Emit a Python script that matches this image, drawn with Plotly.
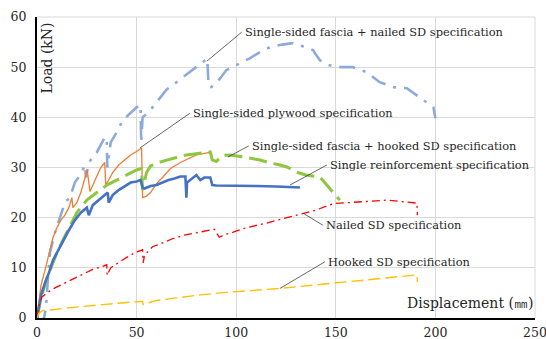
import plotly.graph_objects as go

# Load–displacement curves (displacement in mm, load in kN)
fascia_nailed_x = [0, 2, 3.5, 4.5, 5.5, 6.5, 9, 11.5, 14, 16.5, 19, 22.5, 24, 24.6, 26, 30, 34, 35, 35.3, 37,
                   40, 43, 47, 50, 52, 52.3, 53, 56, 60, 65, 70, 75, 80, 85.5, 86, 87, 89, 92, 95, 100, 107,
                   112, 117, 123, 128.5, 133, 138.6, 140, 142, 146, 150, 158.6, 165.6, 172, 179, 185.7, 192, 199, 200]
fascia_nailed_y = [0, -0.5, 0, 2, 8, 13, 17, 20, 23, 24, 27, 29, 30.5, 28, 31, 33, 36, 36, 30, 35,
                   37, 39.4, 41, 42, 42.5, 35, 40, 41, 43, 45.5, 47, 48.5, 50, 51.7, 47.4, 45.9, 46.5, 47.8, 49.4, 50.4, 51.8,
                   53, 54, 54.5, 54.8, 54.2, 53.4, 52.5, 51.4, 50.5, 50, 50, 49, 47, 46, 45.8, 44, 42, 39.8]

plywood_x = [0, 1, 2, 4, 6, 8, 10, 12, 14, 16, 17.5, 18, 20, 22, 24.5, 25.2, 26.6, 28, 30, 32, 34, 34.5, 36,
             38, 41, 44, 47, 50, 52, 52.5, 53, 55, 57, 60, 63, 67, 72, 76, 80, 84, 87]
plywood_y = [0, 4, 6.5, 9.5, 13, 16, 18, 19.5, 20.5, 22, 24, 22, 23, 25, 28.5, 29.5, 25.2, 26.5, 28.5, 30, 31, 26.5, 27.5,
             29, 30.5, 31.5, 32.5, 33.2, 33.8, 33.9, 24, 24.3, 25, 26.8, 28, 29.8, 31, 31.8, 32.5, 32.8, 33]

fascia_hooked_x = [0, 2, 5, 8, 10, 13, 16, 20, 25, 30, 35, 40, 45, 50, 52.5, 53, 53.3, 55, 57, 61, 65, 70, 75, 80,
                   85, 87, 88, 90, 93, 97, 102, 107, 112, 117, 121, 125.5, 130, 135, 140, 142, 144, 145.5, 148, 150.5, 152]
fascia_hooked_y = [0, 4, 8, 11, 13, 15.5, 18, 21, 23.5, 25, 26.5, 27.5, 28.5, 29.5, 29.8, 25.5, 26, 29, 30.3, 31, 31.5, 32, 32.5, 32.8,
                   33.1, 33.1, 31.5, 31.2, 32.4, 32.5, 32.2, 31.9, 31.5, 30.9, 30.6, 30.1, 29.1, 28.5, 28.3, 28.1, 27.2, 26.5, 25.3, 24.2, 23.5]

single_x = [0, 1, 2, 4, 6, 8, 10, 13, 16, 19, 22, 25, 26, 28, 31, 34, 35.5, 36, 38, 41, 44, 47, 50, 52, 53, 54, 57,
            60, 63, 66, 69, 72, 74.5, 75, 75.3, 77, 80, 82, 84, 87, 88, 90, 100, 110, 120, 130, 132]
single_y = [0, 2.5, 4.5, 7, 9, 11.5, 13, 15.5, 17.5, 19.5, 21, 22, 20.5, 22.5, 23.5, 24.5, 25, 23, 24.5, 25.5, 26.3, 27, 27.2, 27.5, 26, 25.8, 26.3,
            26.5, 27, 27.5, 27.8, 28.2, 28.2, 24, 27, 27.5, 28.5, 27.5, 28, 28, 26.5, 26.4, 26.4, 26.3, 26.2, 26.1, 26]

nailed_x = [0, 1, 2.5, 5, 9, 14, 19, 24, 28, 32.5, 34.5, 35, 35.2, 37, 42.7, 49, 53, 53.3, 54, 58, 62, 68, 74, 80,
            85, 89, 91.5, 94, 98.5, 105, 115, 125, 133.6, 140, 148.7, 160, 168, 175.6, 185.7, 190.7, 191]
nailed_y = [0, 2.5, 4.2, 5, 6, 7, 8, 9, 9.7, 10.2, 10.6, 10.6, 8.5, 10, 11.5, 13, 13.6, 11, 12.5, 14.2, 14.8, 15.8, 16.5, 17,
            17.5, 17.7, 16.1, 16.6, 17.1, 18, 18.9, 20, 20.9, 21.5, 22.8, 23.1, 23.3, 23.5, 23.1, 22.9, 20.5]

hooked_x = [0, 1, 3, 6.5, 15, 25, 35, 45, 52, 53, 53.3, 60, 70, 81.8, 95, 110, 122, 135, 150, 157, 170, 180, 190.7, 191]
hooked_y = [0, 1, 1.5, 1.6, 2, 2.4, 2.8, 3.1, 3.3, 3.3, 2.7, 3.5, 4, 4.6, 5.1, 5.5, 5.9, 6.4, 7, 7.2, 7.8, 8.2, 8.6, 7.2]

# Callout labels: text, point on the curve, and where the label text starts
label_texts = ["Single-sided fascia + nailed SD specification",
               "Single-sided plywood specification",
               "Single-sided fascia + hooked SD specification",
               "Single reinforcement specification",
               "Nailed SD specification",
               "Hooked SD specification"]
label_point_x = [85.3, 51.7, 95.9, 127.0, 133.5, 122.0]
label_point_y = [51.2, 33.9, 32.1, 26.5, 20.9, 5.9]
label_text_x = [103.4, 77.3, 106.9, 146.1, 144.1, 145.1]
label_text_y = [57.0, 40.8, 34.3, 30.5, 18.5, 11.2]

x_ticks = [0, 50, 100, 150, 200, 250]
y_ticks = [0, 10, 20, 30, 40, 50, 60]

serif = "DejaVu Serif"
text_color = "#262626"
grid_color = "#D9D9D9"

fig = go.Figure()

series = [
    (fascia_nailed_x, fascia_nailed_y, "#8EA9DB", 2.6, "16px,8px,3px,8px"),
    (plywood_x, plywood_y, "#ED7D31", 1.3, "solid"),
    (fascia_hooked_x, fascia_hooked_y, "#8DC63F", 3.0, "18px,7px"),
    (single_x, single_y, "#4472C4", 2.6, "solid"),
    (nailed_x, nailed_y, "#FF0000", 1.3, "8px,4px,2px,4px"),
    (hooked_x, hooked_y, "#FFC000", 1.4, "12px,5px"),
]
for xs, ys, color, width, dash in series:
    fig.add_trace(go.Scatter(x=xs, y=ys, mode="lines",
                             line=dict(color=color, width=width, dash=dash),
                             showlegend=False, hoverinfo="skip"))

# Light frame on the top and right edges of the plotting area
fig.add_shape(type="line", xref="paper", yref="paper", x0=0, y0=1, x1=1, y1=1,
              line=dict(color=grid_color, width=1), layer="below")
fig.add_shape(type="line", xref="paper", yref="paper", x0=1, y0=0, x1=1, y1=1,
              line=dict(color=grid_color, width=1), layer="below")

for txt, px, py, tx, ty in zip(label_texts, label_point_x, label_point_y, label_text_x, label_text_y):
    fig.add_shape(type="line", xref="x", yref="y", x0=px, y0=py, x1=tx - 0.6, y1=ty,
                  line=dict(color="#404040", width=0.8))
    fig.add_annotation(x=tx, y=ty, xref="x", yref="y", text=txt, showarrow=False,
                       xanchor="left", yanchor="middle",
                       font=dict(family=serif, size=11.4, color=text_color))

# Axis titles placed inside the plotting area
fig.add_annotation(x=0.02, y=0.865, xref="paper", yref="paper", text="Load (kN)",
                   textangle=-90, showarrow=False, xanchor="center", yanchor="middle",
                   font=dict(family=serif, size=14, color=text_color))
fig.add_annotation(x=1.0, y=0.05, xref="paper", yref="paper", text="Displacement (㎜)",
                   showarrow=False, xanchor="right", yanchor="middle",
                   font=dict(family=serif, size=14, color=text_color))

fig.update_layout(
    width=546, height=339,
    margin=dict(l=37, r=11, t=17, b=21, autoexpand=False),
    paper_bgcolor="white", plot_bgcolor="white",
    xaxis=dict(range=[0, 250], tickvals=x_ticks, showgrid=True, gridcolor=grid_color, gridwidth=1,
               zeroline=False, showline=True, linecolor="black", linewidth=2,
               tickfont=dict(family=serif, size=12.5, color=text_color), ticks="", ticklabelstandoff=2,
               ticklabeloverflow="allow"),
    yaxis=dict(range=[0, 60], tickvals=y_ticks, showgrid=True, gridcolor=grid_color, gridwidth=1,
               zeroline=False, showline=True, linecolor="black", linewidth=2,
               tickfont=dict(family=serif, size=12.5, color=text_color), ticks="", ticklabelstandoff=6,
               ticklabeloverflow="allow"),
)

fig.write_html("out.html")
